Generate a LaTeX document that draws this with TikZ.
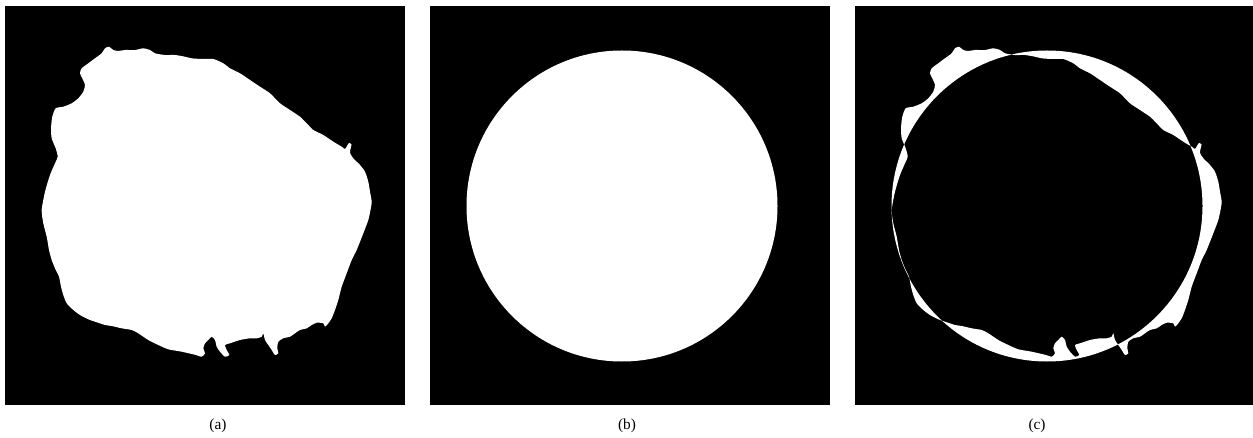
\documentclass[tikz,border=0pt]{standalone}
\usepackage{fontspec}
\setmainfont{Liberation Serif}
% outline of the segmented region (pixel coordinates of panel a)
\newcommand{\regionpath}{plot[smooth cycle, tension=0.4] coordinates {
  (66.7,303.3) (63.3,295) (61,286.7) (59,276.7) (55,268.3) (51.7,260) (49,250)
  (46.7,236.7) (43.3,223.3) (41.7,210) (45,191.7) (50,175) (55,163.3) (57.7,156.7)
  (55.7,148.3) (51.7,138.3) (51,128.3) (52.3,116.7) (55.7,108.3) (63.3,106.7)
  (71.7,103.3) (78.3,98.3) (83.3,91.7) (85,85) (82.3,78.3) (80,73.3) (81.7,68.3)
  (88.3,63.3) (95,58.3) (101.7,53.3) (105,48.3) (109,46.7) (113.3,50) (118.3,51)
  (125,50) (135,50) (143.3,48.3) (150,50) (155,53.3) (165,55) (175,55) (185,56.7)
  (191.7,58.3) (201.7,59) (213.3,59) (223.3,63.3) (230,68.3) (240,73.3) (250,80)
  (260,86.7) (270,93.3) (280,103.3) (290,110) (300,116.7) (306.7,123.3) (313.3,130)
  (323.3,135) (333.3,141.7) (341.7,146.7) (345,149) (347,146) (349,143) (351.5,144.5)
  (350.5,149) (350,153) (353.3,158.3) (360,165) (365,171.7) (368.3,181.7) (370,191.7)
  (371.7,201.7) (370.5,210) (368.3,220) (363.3,233.3) (356.7,250) (351.7,260)
  (346.7,273.3) (341.7,286.7) (338.3,300) (335,310) (331.7,318.3) (328.3,323.3)
  (325,326.7) (323.3,323.3) (316.7,322.7) (311.7,325) (306.7,328.3) (300,330)
  (295,333.3) (290,336.7) (283.3,338.3) (278.3,341.7) (277.3,348.3) (278.3,353.3)
  (275,355) (271.7,350) (268.3,345) (265,340) (263.3,333.3) (261.7,336.7)
  (256.7,338.3) (250,338.3) (240,340) (230,343.3) (225,345) (226.7,350) (229.3,355)
  (225,356.7) (220,351.7) (216.7,346.7) (215,340) (211.7,336.7) (208.3,340)
  (205,343.3) (203.3,348.3) (205,353.3) (201.7,356.7) (196,355) (191.7,354)
  (181.7,351.7) (168.3,349.3) (158.3,345) (148.3,340) (138.3,333.3) (131.7,330)
  (121.7,328.3) (111.7,326) (105,325) (95,321.7) (88.3,319.3) (80,315) (73.3,310)}}
\begin{document}
\begin{tikzpicture}[x=0.75pt, y=-0.75pt, font=\fontsize{11.5}{13}\selectfont,
    panel/.style={fill=black}, fg/.style={fill=white},
    lbl/.style={anchor=base, inner sep=0pt}]
  \useasboundingbox (0,0) rectangle (1253,438);
  % (a) segmentation
  \fill[panel] (5,6) rectangle (405,405);
  \fill[fg] \regionpath;
  \node[lbl] (capA) at (218,429) {(a)};
  % (b) reference circle
  \fill[panel] (430,6) rectangle (830,405);
  \fill[fg] (622,206) circle (155.5);
  \node[lbl] (capB) at (627,429) {(b)};
  % (c) difference of (a) and (b)
  \fill[panel] (855,6) rectangle (1253,405);
  \begin{scope}[shift={(850,0)}]
    \fill[fg, even odd rule] \regionpath (197,206) circle (155.5);
  \end{scope}
  \node[lbl] (capC) at (1037,429) {(c)};
\end{tikzpicture}
\end{document}
